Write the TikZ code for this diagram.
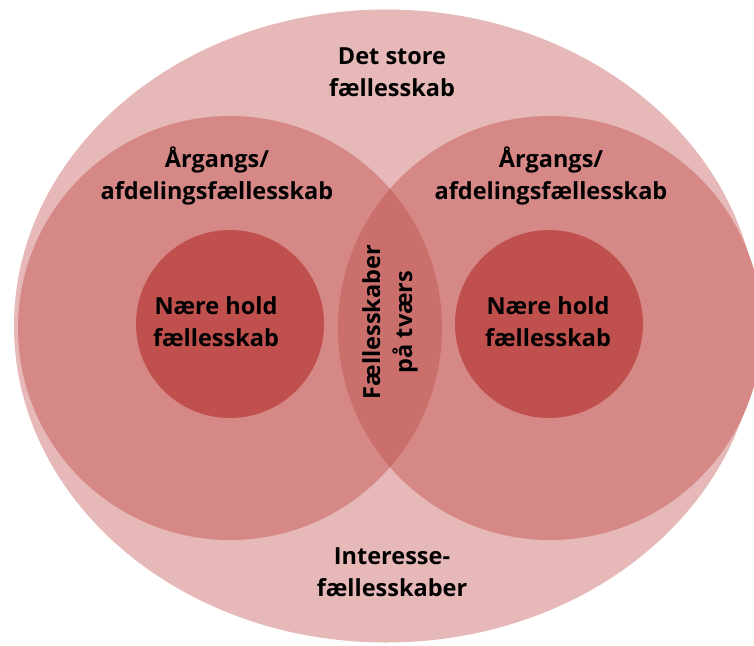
\documentclass[tikz,border=0pt]{standalone}
\usepackage{fontspec}
\setmainfont{Open Sans}
\usepackage{xcolor}
\usepackage{tikz}
\usetikzlibrary{shapes,positioning,calc}

\definecolor{outerpink}{HTML}{E6B8B7}
\definecolor{midpink}{HTML}{D58886}
\definecolor{lenspink}{HTML}{CB6F6D}
\definecolor{innerred}{HTML}{C0504D}

\begin{document}
\begin{tikzpicture}[
    x=1pt, y=-1pt,
    outer/.style={ellipse, fill=outerpink, minimum width=744pt, minimum height=633pt, inner sep=0pt},
    ring/.style={circle, fill=midpink, minimum size=424pt, inner sep=0pt},
    core/.style={circle, fill=innerred, minimum size=188pt, inner sep=0pt},
    label/.style={font=\bfseries\fontsize{23.5}{32}\selectfont, align=center, text=black}
]
\useasboundingbox (0,0) rectangle (754,645);

% Shapes
\node[outer] (big) at (386,326) {};
\node[ring] (leftring) at (230,328) {};
\node[ring] (rightring) at (550,328) {};
\begin{scope}
  \clip (leftring.center) circle (212);
  \fill[lenspink] (rightring.center) circle (212);
\end{scope}
\node[core] (leftcore) at (230,324) {};
\node[core] (rightcore) at (549,324) {};

% Labels
\node[label] (bigtext) at (392,72) {Det store\\fællesskab};
\node[label] (lefttext) at (217,176) {Årgangs/\\afdelingsfællesskab};
\node[label] (righttext) at (551,176) {Årgangs/\\afdelingsfællesskab};
\node[label] (leftcoretext) at (216,322) {Nære hold\\fællesskab};
\node[label] (rightcoretext) at (548,322) {Nære hold\\fællesskab};
\node[label, rotate=90] (lenstext) at (390,322) {Fællesskaber\\på tværs};
\node[label] (bottomtext) at (392,572) {Interesse-\\fællesskaber};

\end{tikzpicture}
\end{document}
